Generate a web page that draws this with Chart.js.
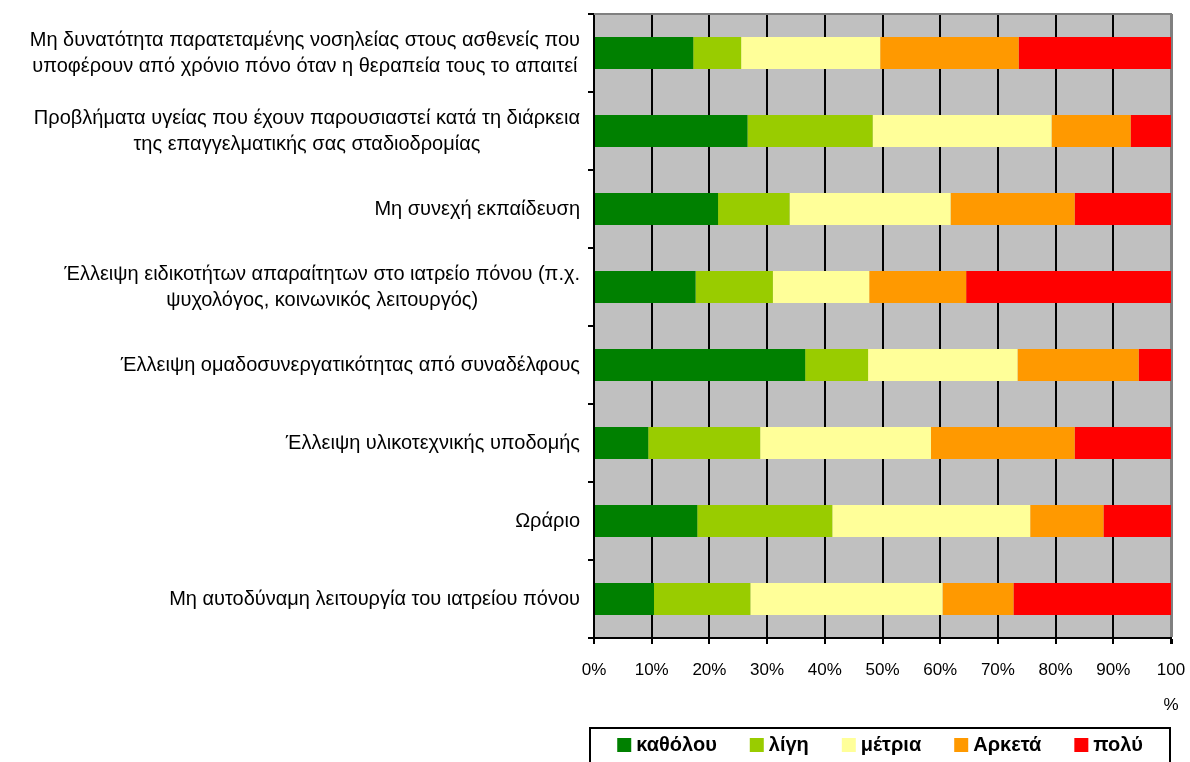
<!DOCTYPE html>
<html>
<head>
<meta charset="utf-8">
<title>Ιατρείο πόνου</title>
<script src="https://cdn.jsdelivr.net/npm/chart.js@4.4.1/dist/chart.umd.min.js"></script>
<style>
    html, body { margin: 0; padding: 0; background: #fff; }
    #wrap { width: 1190px; height: 762px; }
</style>
</head>
<body>
<div id="wrap"><canvas id="problemsChart" width="1190" height="762"></canvas></div>
<script>
// categories, top to bottom
var categories = [
    ['Μη δυνατότητα παρατεταμένης νοσηλείας στους ασθενείς που', 'υποφέρουν από χρόνιο πόνο όταν η θεραπεία τους το απαιτεί'],
    ['Προβλήματα υγείας που έχουν παρουσιαστεί κατά τη διάρκεια', 'της επαγγελματικής σας σταδιοδρομίας'],
    'Μη συνεχή εκπαίδευση',
    ['Έλλειψη ειδικοτήτων απαραίτητων στο ιατρείο πόνου (π.χ.', 'ψυχολόγος, κοινωνικός λειτουργός)'],
    'Έλλειψη ομαδοσυνεργατικότητας από συναδέλφους',
    'Έλλειψη υλικοτεχνικής υποδομής',
    'Ωράριο',
    'Μη αυτοδύναμη λειτουργία του ιατρείου πόνου'
];

// answer shares in %
var katholou = [17.2, 26.6, 21.5, 17.6, 36.6, 9.4, 17.9, 10.4];
var ligi = [8.3, 21.7, 12.4, 13.4, 10.9, 19.4, 23.4, 16.7];
var metria = [24.1, 31.0, 27.9, 16.7, 25.9, 29.6, 34.3, 33.3];
var arketa = [24.0, 13.7, 21.5, 16.8, 21.0, 24.9, 12.7, 12.3];
var poly = [26.4, 7.0, 16.7, 35.5, 5.6, 16.7, 11.7, 27.3];

var seriesNames = ['καθόλου', 'λίγη', 'μέτρια', 'Αρκετά', 'πολύ'];
var seriesColors = ['#008000', '#99CC00', '#FFFF99', '#FF9900', '#FF0000'];

// x axis ticks
var xTicks = [0, 10, 20, 30, 40, 50, 60, 70, 80, 90, 100];

var FONT = "'Liberation Sans', Arial, sans-serif";

// grey plot background + grey top edge
var plotBackground = {
    id: 'plotBackground',
    beforeDraw: function (chart) {
        var a = chart.chartArea, ctx = chart.ctx;
        ctx.save();
        ctx.fillStyle = '#fff';
        ctx.fillRect(0, 0, chart.width, chart.height);
        ctx.fillStyle = '#C0C0C0';
        ctx.fillRect(a.left, a.top, a.right - a.left, a.bottom - a.top);
        ctx.restore();
    },
    afterDraw: function (chart) {
        var a = chart.chartArea, ctx = chart.ctx;
        ctx.save();
        ctx.strokeStyle = '#808080';
        ctx.lineWidth = 2;
        ctx.beginPath();
        ctx.moveTo(a.left, a.top);
        ctx.lineTo(a.right + 1, a.top);
        ctx.stroke();
        ctx.restore();
    }
};

// category labels: block right aligned to the axis, lines centred in the block
var categoryLabels = {
    id: 'categoryLabels',
    afterDraw: function (chart) {
        var ctx = chart.ctx, yScale = chart.scales.y;
        var right = yScale.right - 14;
        var lineH = 26;
        ctx.save();
        ctx.font = '20px ' + FONT;
        ctx.fillStyle = '#000';
        ctx.textAlign = 'center';
        ctx.textBaseline = 'middle';
        categories.forEach(function (label, i) {
            var lines = Array.isArray(label) ? label : [label];
            var w = 0;
            lines.forEach(function (l) { w = Math.max(w, ctx.measureText(l).width); });
            var cx = right - w / 2;
            var y = yScale.getPixelForValue(i);
            lines.forEach(function (l, j) {
                ctx.fillText(l, cx, y + (j - (lines.length - 1) / 2) * lineH);
            });
        });
        ctx.restore();
    }
};

// boxed legend under the plot
var boxLegend = {
    id: 'boxLegend',
    afterDraw: function (chart) {
        var ctx = chart.ctx, a = chart.chartArea;
        var boxL = a.left - 4, boxR = a.right - 1, boxT = 728;
        var sq = 14, textGap = 5, itemGap = 33, cy = 745;
        ctx.save();
        ctx.strokeStyle = '#000';
        ctx.lineWidth = 2;
        ctx.strokeRect(boxL, boxT, boxR - boxL, 60);
        ctx.font = 'bold 20px ' + FONT;
        var widths = chart.data.datasets.map(function (ds) { return ctx.measureText(ds.label).width; });
        var total = 0;
        widths.forEach(function (w) { total += sq + textGap + w; });
        total += itemGap * (widths.length - 1);
        var x = (boxL + boxR) / 2 - total / 2;
        ctx.textAlign = 'left';
        ctx.textBaseline = 'middle';
        chart.data.datasets.forEach(function (ds, i) {
            ctx.fillStyle = ds.backgroundColor;
            ctx.fillRect(x, cy - sq / 2, sq, sq);
            ctx.fillStyle = '#000';
            ctx.fillText(ds.label, x + sq + textGap, cy);
            x += sq + textGap + widths[i] + itemGap;
        });
        ctx.restore();
    }
};

var seriesData = [katholou, ligi, metria, arketa, poly];
var datasets = seriesNames.map(function (name, i) {
    return {
        label: name,
        data: seriesData[i],
        backgroundColor: seriesColors[i],
        borderWidth: 0,
        barPercentage: 0.41,
        categoryPercentage: 1.0
    };
});

var ctx = document.getElementById('problemsChart').getContext('2d');
var problemsChart = new Chart(ctx, {
    type: 'bar',
    data: { labels: categories, datasets: datasets },
    options: {
        indexAxis: 'y',
        responsive: false,
        animation: false,
        layout: { padding: { top: 14, right: 19, left: 0, bottom: 0 } },
        plugins: {
            legend: { display: false },
            tooltip: { enabled: false }
        },
        scales: {
            x: {
                type: 'linear',
                stacked: true,
                min: 0,
                max: 100,
                afterBuildTicks: function (scale) {
                    scale.ticks = xTicks.map(function (v) { return { value: v }; });
                },
                afterFit: function (scale) {
                    scale.height = 124;
                    scale.paddingLeft = 0;
                    scale.paddingRight = 0;
                },
                border: { color: '#000', width: 2 },
                grid: {
                    color: function (c) { return c.tick && c.tick.value === 100 ? '#808080' : '#000'; },
                    lineWidth: function (c) { return c.tick && c.tick.value === 100 ? 3 : 2; },
                    tickColor: '#000',
                    tickLength: 6
                },
                ticks: {
                    color: '#000',
                    padding: 9,
                    maxRotation: 0,
                    font: { family: FONT, size: 17, lineHeight: '35px' },
                    callback: function (v) { return v === 100 ? ['100', '%'] : v + '%'; }
                }
            },
            y: {
                stacked: true,
                afterFit: function (scale) { scale.width = 594; },
                border: { color: '#000', width: 2 },
                grid: {
                    offset: true,
                    drawOnChartArea: false,
                    color: '#000',
                    lineWidth: 2,
                    tickLength: 6
                },
                ticks: { display: false }
            }
        }
    },
    plugins: [plotBackground, categoryLabels, boxLegend]
});
</script>
</body>
</html>
